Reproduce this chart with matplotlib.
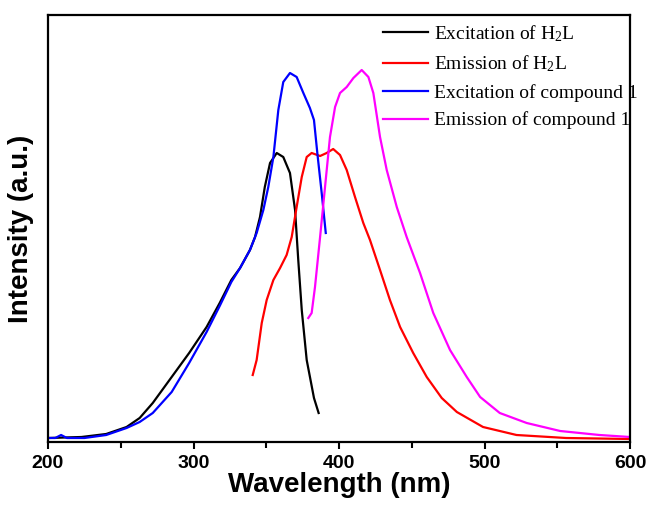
import matplotlib
matplotlib.use("Agg")
import matplotlib.pyplot as plt
from matplotlib.ticker import MultipleLocator

plt.rcParams['mathtext.fontset'] = 'custom'
plt.rcParams['mathtext.rm'] = 'Liberation Serif'
plt.rcParams['mathtext.it'] = 'Liberation Serif:italic'

# Excitation of H2L
exc_h2l_x = [200, 223, 240, 254, 263, 272, 285, 297, 309, 318, 326, 332, 338.8, 342.3, 345.7,
             349, 352.6, 357.2, 361.7, 366.3, 369.8, 372, 374.4, 377.8, 382.8, 386]
exc_h2l_y = [4, 5, 8, 15, 24, 39, 65, 89, 115, 139, 162, 174, 192, 205, 225,
             255, 279, 289, 285, 269, 232, 182, 132, 82, 44, 29]

# Emission of H2L
em_h2l_x = [340.7, 343.4, 346.9, 350.3, 354.9, 359.5, 364, 367.5, 370.9, 374.4, 377.8, 381.2,
            387, 391.5, 396, 400.7, 405.3, 411, 416.7, 421.3, 428.2, 435, 442, 451, 460.3,
            470.6, 481, 499, 522, 556, 600]
em_h2l_y = [67, 82, 119, 142, 162, 174, 187, 205, 235, 265, 285, 289,
            286, 289, 293, 287, 272, 245, 219, 202, 172, 142, 115, 89, 65,
            44, 30, 15, 7, 4, 3]

# Excitation of compound 1
exc_c1_x = [200, 205, 209, 213, 225, 240, 254, 263, 272, 285, 297, 309, 318, 326, 332, 338.8,
            343.4, 348, 351.4, 354.9, 358.3, 361.7, 366.3, 370.9, 375.5, 380, 382.8, 385.1,
            388.1, 390.9]
exc_c1_y = [4, 4, 7, 4, 4, 7, 14, 20, 29, 50, 79, 110, 136, 160, 174, 192,
            209, 232, 255, 285, 332, 360, 369, 365, 349, 334, 322, 289,
            249, 209]

# Emission of compound 1
em_c1_x = [378.9, 381.2, 383.5, 387, 390.4, 393.8, 397.3, 400.7, 405.3, 409.9, 415.6, 420.2,
           423.6, 428.2, 432.8, 439.7, 446.5, 455.7, 464.8, 476.3, 487.8, 497, 510.5, 529,
           552, 579, 600]
em_c1_y = [124, 129, 155, 205, 255, 305, 335, 349, 355, 364, 372, 365,
           349, 305, 272, 235, 205, 169, 129, 92, 65, 45, 29, 19,
           11, 7, 5]

labels = [r'Excitation of H$_2$L', r'Emission of H$_2$L',
          'Excitation of compound 1', 'Emission of compound 1']

fig = plt.figure(figsize=(6.49, 5.07), dpi=100)
ax = fig.add_axes([48/649, 1 - 442/507, (630 - 48)/649, (442 - 15)/507])

lw = 1.6
ax.plot(exc_h2l_x, exc_h2l_y, color='black', lw=lw, label=labels[0])
ax.plot(em_h2l_x, em_h2l_y, color='#ff0000', lw=lw, label=labels[1])
ax.plot(exc_c1_x, exc_c1_y, color='#0000ff', lw=lw, label=labels[2])
ax.plot(em_c1_x, em_c1_y, color='#ff00ff', lw=lw, label=labels[3])

ax.set_xlim(200, 600)
ax.set_ylim(0, 427)
ax.xaxis.set_major_locator(MultipleLocator(100))
ax.xaxis.set_minor_locator(MultipleLocator(50))
ax.set_yticks([])
ax.tick_params(axis='x', which='major', direction='out', length=5, width=1.5,
               top=False, labelsize=14, pad=4)
ax.tick_params(axis='x', which='minor', direction='out', length=4, width=1.5, top=False)
for lab in ax.get_xticklabels():
    lab.set_fontfamily('Liberation Sans')
    lab.set_fontweight('bold')
for s in ax.spines.values():
    s.set_linewidth(1.6)

ax.set_xlabel('Wavelength (nm)', fontsize=20, fontweight='bold',
              family='Liberation Sans', labelpad=0)
ax.set_ylabel('Intensity (a.u.)', fontsize=20, fontweight='bold',
              family='Liberation Sans', labelpad=10)

leg = ax.legend(loc='upper left', bbox_to_anchor=(383/649, 1 - 23/507),
                bbox_transform=fig.transFigure, frameon=False,
                prop={'family': 'Liberation Serif', 'size': 14},
                handlelength=2.3, handletextpad=0.3, borderpad=0,
                borderaxespad=0, labelspacing=0.5)

fig.savefig('out.png', dpi=100)
